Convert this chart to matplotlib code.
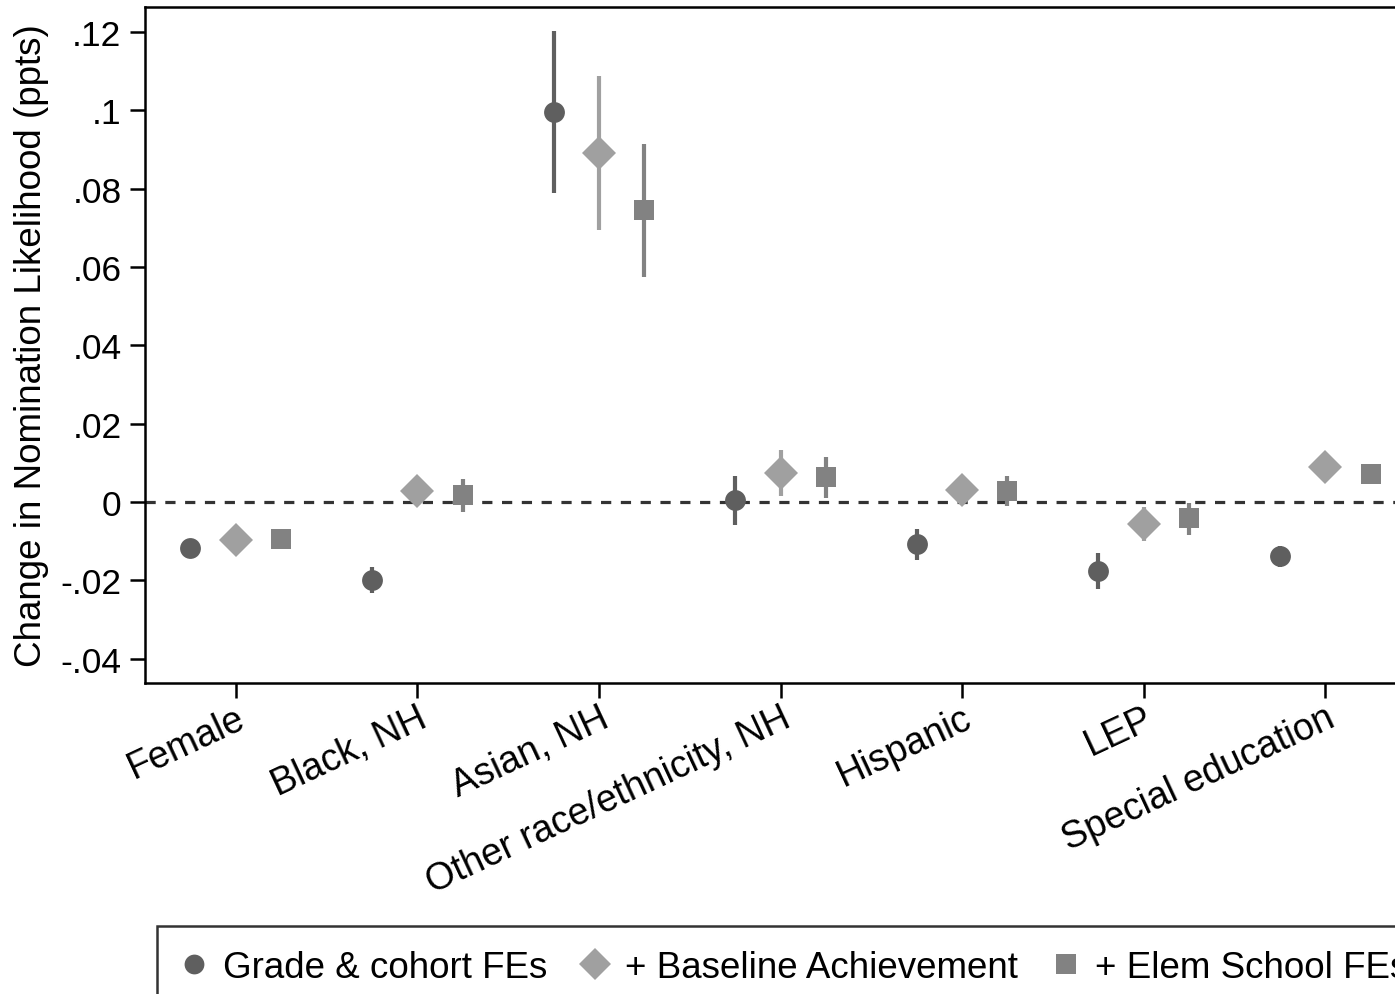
import matplotlib
matplotlib.use('Agg')
import matplotlib.pyplot as plt
import numpy as np

plt.rcParams['font.family'] = ['Liberation Sans', 'DejaVu Sans']

categories = ['Female', 'Black, NH', 'Asian, NH', 'Other race/ethnicity, NH',
              'Hispanic', 'LEP', 'Special education']
series = ['Grade & cohort FEs', '+ Baseline Achievement', '+ Elem School FEs']

# point estimates
est_grade = [-0.0117, -0.0199, 0.0996, 0.0005, -0.0107, -0.0176, -0.0138]
est_base = [-0.0097, 0.0028, 0.0891, 0.0074, 0.0031, -0.0056, 0.0089]
est_elem = [-0.0094, 0.0018, 0.0745, 0.0064, 0.0028, -0.0041, 0.0071]

# confidence intervals (low, high)
lo_grade = [-0.0128, -0.0232, 0.0789, -0.0059, -0.0148, -0.0222, -0.0166]
hi_grade = [-0.0106, -0.0166, 0.1202, 0.0066, -0.0069, -0.0130, -0.0112]
lo_base = [-0.0105, 0.0018, 0.0694, 0.0015, -0.0005, -0.0100, 0.0064]
hi_base = [-0.0089, 0.0038, 0.1088, 0.0133, 0.0066, -0.0013, 0.0112]
lo_elem = [-0.0102, -0.0026, 0.0574, 0.0010, -0.0010, -0.0084, 0.0049]
hi_elem = [-0.0086, 0.0059, 0.0914, 0.0115, 0.0066, -0.0003, 0.0094]

yticks = [-0.04, -0.02, 0, 0.02, 0.04, 0.06, 0.08, 0.1, 0.12]
yticklabels = ['-.04', '-.02', '0', '.02', '.04', '.06', '.08', '.1', '.12']

W, H = 1395, 995
fig = plt.figure(figsize=(W / 100, H / 100), dpi=100)
ax = fig.add_axes([145 / W, 1 - 684 / H, (1416 - 145) / W, (684 - 8) / H])

x = np.arange(len(categories))
styles = [
    (est_grade, lo_grade, hi_grade, -0.25, 'o', '#5f5f5f', 15),
    (est_base, lo_base, hi_base, 0.0, 'D', '#a0a0a0', 17),
    (est_elem, lo_elem, hi_elem, 0.25, 's', '#828282', 15),
]
handles = []
for (est, lo, hi, off, mk, col, ms), name in zip(styles, series):
    ax.vlines(x + off, lo, hi, color=col, lw=3, zorder=2)
    h, = ax.plot(x + off, est, ls='none', marker=mk, color=col, ms=ms,
                 mec=col, mew=0, zorder=3, label=name)
    handles.append(h)

ax.axhline(0, color='#333333', lw=2.3, ls=(0, (3.2, 3)), zorder=1)

ax.set_xlim(-0.5, len(categories) - 0.5)
ax.set_ylim(-0.0462, 0.1264)
ax.set_yticks(yticks)
ax.set_yticklabels(yticklabels, fontsize=25.5)
ax.set_xticks(x)
ax.set_xticklabels(categories, fontsize=27, rotation=25, ha='right',
                   va='top', rotation_mode='anchor')
ax.tick_params(axis='both', length=11, width=1.8, direction='out', pad=6)
ax.tick_params(axis='x', pad=1)
for s in ax.spines.values():
    s.set_linewidth(1.8)
ax.set_ylabel('Change in Nomination Likelihood (ppts)', fontsize=26.5)
ax.yaxis.set_label_coords(-96 / (1416 - 145), 0.5)

leg = fig.legend(handles=handles, loc='upper left',
                 bbox_to_anchor=(157 / W, 1 - 927 / H), borderaxespad=0,
                 ncol=3, fontsize=26.5,
                 frameon=True, fancybox=False, edgecolor='black',
                 handlelength=0.7, handletextpad=0.45, columnspacing=0.95,
                 borderpad=0.65, markerscale=0.95)
leg.get_frame().set_linewidth(1.8)

fig.savefig('out.png', dpi=100)
